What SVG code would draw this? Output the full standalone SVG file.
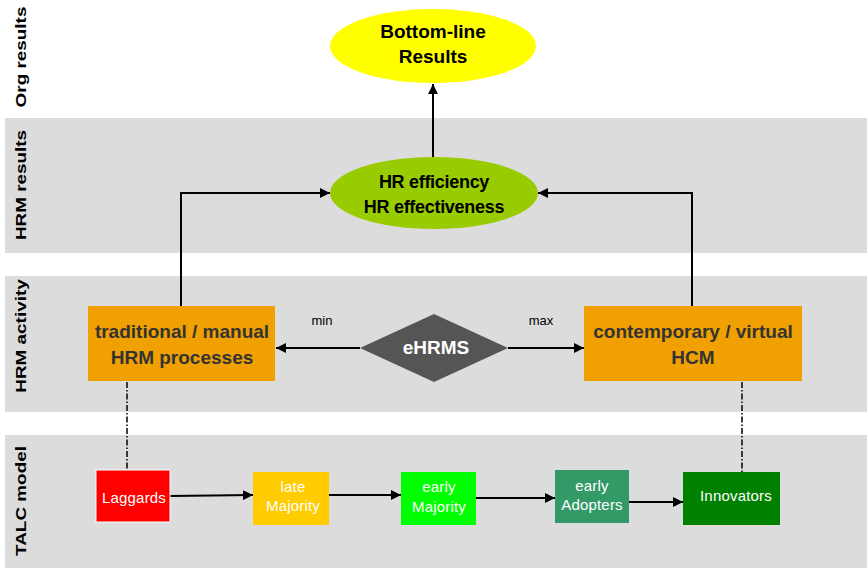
<svg xmlns="http://www.w3.org/2000/svg" width="867" height="568" viewBox="0 0 867 568">
<defs>
<style>
.band{fill:#dcdcdc}
.lane{font-family:"Liberation Sans",Arial,sans-serif;font-weight:bold;font-size:14px;fill:#000;text-anchor:middle}
.bt{font-family:"Liberation Sans",Arial,sans-serif;font-weight:bold;font-size:19px;text-anchor:middle}
.ht{font-family:"Liberation Sans",Arial,sans-serif;font-weight:bold;font-size:18px;text-anchor:middle;letter-spacing:-0.3px}
.st{font-family:"Liberation Sans",Arial,sans-serif;font-size:15px;fill:#fff;text-anchor:middle;letter-spacing:0.2px}
.lbl{font-family:"Liberation Sans",Arial,sans-serif;font-size:13px;fill:#000;text-anchor:middle}
.con{stroke:#000;stroke-width:2;fill:none}
.dash{stroke:#000;stroke-width:1.5;fill:none;stroke-dasharray:6 2 1.5 2}
</style>
<marker id="ah" viewBox="0 0 10 10" refX="10" refY="5" markerWidth="5" markerHeight="5" orient="auto" markerUnits="strokeWidth">
<path d="M0,0 L10,5 L0,10 z" fill="#000"/>
</marker>
</defs>
<rect width="867" height="568" fill="#fff"/>
<g id="bands">
<rect class="band" x="5" y="118" width="862" height="135"/>
<rect class="band" x="5" y="276" width="862" height="136"/>
<rect class="band" x="5" y="435" width="862" height="133"/>
<text class="lane" transform="translate(26,57) rotate(-90) scale(1.35,1)">Org results</text>
<text class="lane" transform="translate(26,185) rotate(-90) scale(1.35,1)">HRM results</text>
<text class="lane" transform="translate(26,336) rotate(-90) scale(1.35,1)">HRM activity</text>
<text class="lane" transform="translate(26,501) rotate(-90) scale(1.35,1)">TALC model</text>
</g>
<g id="connectors">
<line class="con" x1="433" y1="157" x2="433" y2="84" marker-end="url(#ah)"/>
<polyline class="con" points="181,306 181,193 330,193" marker-end="url(#ah)"/>
<polyline class="con" points="692,306 692,193 538,193" marker-end="url(#ah)"/>
<line class="con" x1="360" y1="348" x2="276" y2="348" marker-end="url(#ah)"/>
<line class="con" x1="508" y1="348" x2="584" y2="348" marker-end="url(#ah)"/>
<line class="dash" x1="127" y1="382" x2="127" y2="470"/>
<line class="dash" x1="742" y1="382" x2="742" y2="472"/>
<line class="con" x1="170" y1="496" x2="253" y2="495" marker-end="url(#ah)"/>
<line class="con" x1="329" y1="495" x2="401" y2="495" marker-end="url(#ah)"/>
<line class="con" x1="476" y1="498" x2="555" y2="498" marker-end="url(#ah)"/>
<line class="con" x1="629" y1="502" x2="683" y2="502" marker-end="url(#ah)"/>
<text class="lbl" x="322" y="325">min</text>
<text class="lbl" x="541" y="325">max</text>
</g>
<g id="bottomline">
<ellipse cx="433" cy="46" rx="103" ry="37" fill="#ffff00"/>
<text class="bt" x="433" y="38" fill="#000">Bottom-line</text>
<text class="bt" x="433" y="63" fill="#000">Results</text>
</g>
<g id="hrresults">
<ellipse cx="434" cy="193" rx="104" ry="36" fill="#99cc00"/>
<text class="ht" x="434" y="188" fill="#000">HR efficiency</text>
<text class="ht" x="434" y="213" fill="#000">HR effectiveness</text>
</g>
<g id="traditional">
<rect x="88" y="306" width="187" height="75" fill="#f0a000"/>
<text class="bt" x="182" y="338" fill="#333">traditional / manual</text>
<text class="bt" x="182" y="364" fill="#333">HRM processes</text>
</g>
<g id="contemporary">
<rect x="584" y="306" width="218" height="75" fill="#f0a000"/>
<text class="bt" x="693" y="338" fill="#333">contemporary / virtual</text>
<text class="bt" x="693" y="364" fill="#333">HCM</text>
</g>
<g id="ehrms">
<polygon points="434,314 508,348 434,382 360,348" fill="#555555"/>
<text class="bt" x="436" y="354" fill="#fff">eHRMS</text>
</g>
<g id="laggards">
<rect x="96" y="470" width="74" height="52" fill="#ff0000" stroke="#fff" stroke-width="1"/>
<text class="st" x="134" y="503">Laggards</text>
</g>
<g id="lateMajority">
<rect x="253" y="472" width="76" height="53" fill="#ffcc00"/>
<text class="st" x="293" y="492">late</text>
<text class="st" x="293" y="511">Majority</text>
</g>
<g id="earlyMajority">
<rect x="401" y="472" width="75" height="53" fill="#00ff00"/>
<text class="st" x="439" y="492">early</text>
<text class="st" x="439" y="512">Majority</text>
</g>
<g id="earlyAdopters">
<rect x="555" y="470" width="74" height="53" fill="#339966"/>
<text class="st" x="592" y="491">early</text>
<text class="st" x="592" y="510">Adopters</text>
</g>
<g id="innovators">
<rect x="683" y="472" width="97" height="53" fill="#008000"/>
<text class="st" x="736" y="501">Innovators</text>
</g>
</svg>
